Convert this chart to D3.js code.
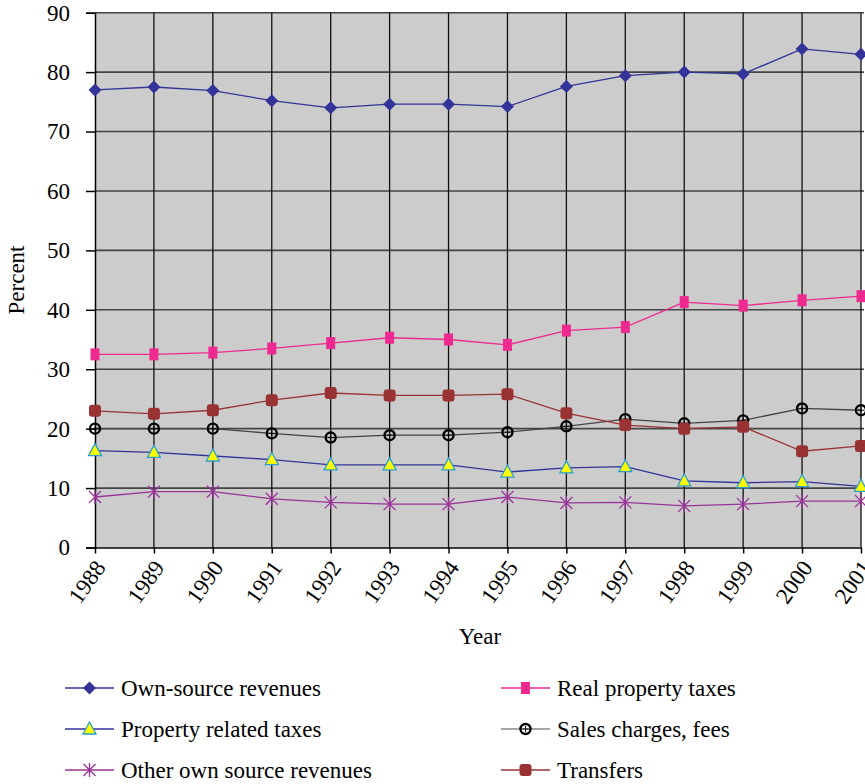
<!DOCTYPE html>
<html>
<head>
<meta charset="utf-8">
<script src="https://cdn.jsdelivr.net/npm/d3@7"></script>
<style>
  body { margin: 0; background: #fff; }
  svg text { font-family: "Liberation Serif", "Times New Roman", serif; fill: #000; }
</style>
</head>
<body>
<div id="chart"></div>
<script>
// data
var years = [1988, 1989, 1990, 1991, 1992, 1993, 1994, 1995, 1996, 1997, 1998, 1999, 2000, 2001];
var ownSource = [77.0, 77.5, 76.9, 75.2, 74.0, 74.6, 74.6, 74.2, 77.6, 79.4, 80.0, 79.7, 83.9, 83.0];
var realProperty = [32.5, 32.5, 32.8, 33.5, 34.4, 35.3, 35.0, 34.1, 36.5, 37.1, 41.3, 40.7, 41.6, 42.3];
var propertyRelated = [16.3, 16.0, 15.4, 14.8, 13.9, 13.9, 13.9, 12.7, 13.4, 13.6, 11.2, 10.9, 11.1, 10.3];
var salesCharges = [20.0, 20.0, 20.0, 19.2, 18.5, 18.9, 18.9, 19.4, 20.4, 21.6, 20.9, 21.4, 23.4, 23.1];
var otherOwn = [8.5, 9.4, 9.4, 8.2, 7.6, 7.3, 7.3, 8.5, 7.5, 7.6, 7.0, 7.3, 7.8, 7.8];
var transfers = [23.0, 22.5, 23.1, 24.8, 26.0, 25.6, 25.6, 25.8, 22.6, 20.6, 20.0, 20.3, 16.2, 17.1];
var yTicks = [0, 10, 20, 30, 40, 50, 60, 70, 80, 90];

var series = [
    {name: "Own-source revenues", values: ownSource, line: "#333399", marker: "diamond", col: 0, row: 0},
    {name: "Real property taxes", values: realProperty, line: "#EE2A90", marker: "square", col: 1, row: 0},
    {name: "Property related taxes", values: propertyRelated, line: "#333399", marker: "triangle", col: 0, row: 1},
    {name: "Sales charges, fees", values: salesCharges, line: "#444444", marker: "circleplus", col: 1, row: 1},
    {name: "Other own source revenues", values: otherOwn, line: "#993399", marker: "star", col: 0, row: 2},
    {name: "Transfers", values: transfers, line: "#993333", marker: "roundsquare", col: 1, row: 2}
];

var width = 865, height = 784;
var plotLeft = 95, plotRight = 861, plotTop = 12.7, plotBottom = 547.5;
var serif = "'Liberation Serif', 'Times New Roman', serif";

var svg = d3.select("#chart").append("svg")
    .attr("width", width)
    .attr("height", height);

var x = d3.scaleLinear().domain([years[0], years[years.length - 1]]).range([plotLeft, plotRight]);
var y = d3.scaleLinear().domain([0, 90]).range([plotBottom, plotTop]);

// plot background
svg.append("rect")
    .attr("x", plotLeft).attr("y", plotTop)
    .attr("width", plotRight - plotLeft).attr("height", plotBottom - plotTop)
    .attr("fill", "#cccccc");

// grid lines
svg.append("g").selectAll("line")
    .data(yTicks.slice(1))
    .enter().append("line")
    .attr("x1", plotLeft).attr("x2", plotRight + 3)
    .attr("y1", y).attr("y2", y)
    .attr("stroke", "#444").attr("stroke-width", 1.6);

svg.append("g").selectAll("line")
    .data(years.slice(1))
    .enter().append("line")
    .attr("x1", x).attr("x2", x)
    .attr("y1", plotTop).attr("y2", plotBottom)
    .attr("stroke", "#111").attr("stroke-width", 1.3);

// axes
var yAxis = d3.axisLeft(y).tickValues(yTicks).tickSize(9).tickPadding(16);
var gy = svg.append("g").attr("transform", "translate(" + plotLeft + ",0)").call(yAxis)
    .attr("font-family", serif).attr("font-size", 23);
gy.select(".domain").attr("stroke", "#000").attr("stroke-width", 1.5);
gy.selectAll(".tick line").attr("stroke", "#000").attr("stroke-width", 1.5);

var xAxis = d3.axisBottom(x).tickValues(years).tickFormat(d3.format("d")).tickSize(6).tickSizeOuter(0);
var gx = svg.append("g").attr("transform", "translate(0," + plotBottom + ")").call(xAxis)
    .attr("font-family", serif).attr("font-size", 23);
gx.select(".domain").attr("stroke", "#000").attr("stroke-width", 1.5);
gx.selectAll(".tick line").attr("stroke", "#000").attr("stroke-width", 1.5);
gx.selectAll("text")
    .attr("text-anchor", "end")
    .attr("dy", null).attr("y", 0)
    .attr("transform", "translate(11,20) rotate(-55)");

svg.append("text")
    .attr("transform", "translate(24,280) rotate(-90)")
    .attr("text-anchor", "middle")
    .style("font-size", "23px")
    .text("Percent");

svg.append("text")
    .attr("x", 480).attr("y", 644)
    .attr("text-anchor", "middle")
    .style("font-size", "23px")
    .text("Year");

// markers
function drawMarker(g, type) {
    if (type === "diamond") {
        g.append("path").attr("d", "M0,-6.5L6.5,0L0,6.5L-6.5,0Z").attr("fill", "#333399");
    } else if (type === "square") {
        g.append("rect").attr("x", -4.5).attr("y", -6).attr("width", 9).attr("height", 12).attr("fill", "#EE2A90");
    } else if (type === "triangle") {
        g.append("path").attr("d", "M0,-7L6.5,5L-6.5,5Z").attr("fill", "#ffff00")
            .attr("stroke", "#2a9fd0").attr("stroke-width", 1.3);
    } else if (type === "circleplus") {
        g.append("circle").attr("r", 5).attr("fill", "none").attr("stroke", "#000").attr("stroke-width", 2.4);
        g.append("path").attr("d", "M-3,0H3M0,-3V3").attr("stroke", "#000").attr("stroke-width", 1);
    } else if (type === "star") {
        g.append("path").attr("d", "M-6,-6L6,6M-6,6L6,-6M0,-7V7")
            .attr("stroke", "#993399").attr("stroke-width", 1.3).attr("fill", "none");
    } else if (type === "roundsquare") {
        g.append("rect").attr("x", -6).attr("y", -6).attr("width", 12).attr("height", 12)
            .attr("rx", 3).attr("fill", "#993333");
    }
}

var line = d3.line()
    .x(function (d, i) { return x(years[i]); })
    .y(function (d) { return y(d); });

// draw lines first, then markers on top
series.forEach(function (s) {
    svg.append("path")
        .attr("d", line(s.values))
        .attr("fill", "none")
        .attr("stroke", s.line)
        .attr("stroke-width", 1.3);
});
series.forEach(function (s) {
    s.values.forEach(function (v, i) {
        var g = svg.append("g").attr("transform", "translate(" + x(years[i]) + "," + y(v) + ")");
        drawMarker(g, s.marker);
    });
});

// legend
var legend = svg.append("g");
series.forEach(function (s) {
    var lx = s.col === 0 ? 65 : 501;
    var ly = 688 + s.row * 41;
    var g = legend.append("g").attr("transform", "translate(" + lx + "," + ly + ")");
    g.append("line").attr("x1", 0).attr("x2", 49).attr("y1", 0).attr("y2", 0)
        .attr("stroke", s.line === "#444444" ? "#888" : s.line).attr("stroke-width", 1.3);
    drawMarker(g.append("g").attr("transform", "translate(24.5,0)"), s.marker);
    g.append("text").attr("x", 56).attr("y", 8)
        .style("font-size", "23px")
        .text(s.name);
});
</script>
</body>
</html>
